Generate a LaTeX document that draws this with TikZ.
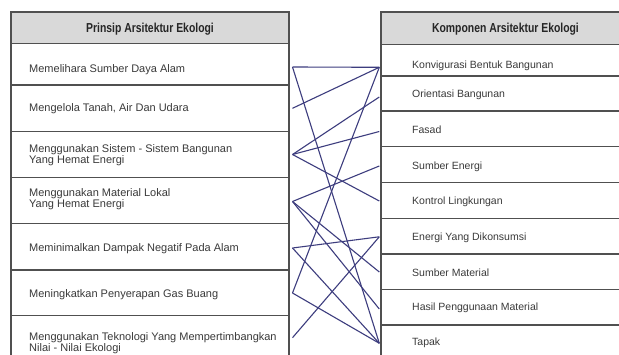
\documentclass[tikz,border=0pt]{standalone}
\usepackage{fontspec}
\setmainfont{Liberation Sans}
\usepackage{graphicx}
\definecolor{bordergray}{HTML}{505050}
\definecolor{hdrgray}{HTML}{D9D9D9}
\definecolor{txtgray}{HTML}{3A3A3A}
\definecolor{linkblue}{HTML}{3D3D7E}
\begin{document}
\begin{tikzpicture}[x=1pt,y=-1pt,
  cell/.style={draw=bordergray, line width=1.2pt, fill=white, anchor=north west, inner sep=0pt, outer sep=0pt},
  hdr/.style={cell, fill=hdrgray},
  txtl/.style={anchor=west, inner sep=0pt, font=\fontsize{11}{9.3}\selectfont, text=txtgray, text height=8pt, text depth=2.3pt},
  txtm/.style={anchor=west, inner sep=0pt, font=\fontsize{11}{9.3}\selectfont, text=txtgray, align=left},
  txt/.style={anchor=west, inner sep=0pt, font=\fontsize{10.5}{9}\selectfont, text=txtgray, text height=7.6pt, text depth=2.2pt},
  htxt/.style={inner sep=0pt, font=\fontsize{13}{14}\selectfont\bfseries, text=black!85},
  link/.style={draw=linkblue, line width=1.1pt}
]
\useasboundingbox (0,0) rectangle (619,355);
\fill[white] (0,0) rectangle (619,355);
\clip (0,0) rectangle (619,355);

% left table
\node[hdr, minimum width=278pt, minimum height=31.3pt] (LH) at (11,12) {};
\node[cell, minimum width=278pt, minimum height=41.7pt] (L1) at (11,43.3) {};
\node[cell, minimum width=278pt, minimum height=46.7pt] (L2) at (11,85) {};
\node[cell, minimum width=278pt, minimum height=46pt] (L3) at (11,131.7) {};
\node[cell, minimum width=278pt, minimum height=45.6pt] (L4) at (11,177.7) {};
\node[cell, minimum width=278pt, minimum height=46.7pt] (L5) at (11,223.3) {};
\node[cell, minimum width=278pt, minimum height=45.7pt] (L6) at (11,270) {};
\node[cell, minimum width=278pt, minimum height=50pt] (L7) at (11,315.7) {};

% right table
\node[hdr, minimum width=249pt, minimum height=32.3pt] (RH) at (381,12) {};
\node[cell, minimum width=249pt, minimum height=31.7pt] (R1) at (381,44.3) {};
\node[cell, minimum width=249pt, minimum height=35pt] (R2) at (381,76) {};
\node[cell, minimum width=249pt, minimum height=35.7pt] (R3) at (381,111) {};
\node[cell, minimum width=249pt, minimum height=35.6pt] (R4) at (381,146.7) {};
\node[cell, minimum width=249pt, minimum height=36pt] (R5) at (381,182.3) {};
\node[cell, minimum width=249pt, minimum height=35.7pt] (R6) at (381,218.3) {};
\node[cell, minimum width=249pt, minimum height=35.3pt] (R7) at (381,254) {};
\node[cell, minimum width=249pt, minimum height=35.7pt] (R8) at (381,289.3) {};
\node[cell, minimum width=249pt, minimum height=40pt] (R9) at (381,325) {};

% headers
\node[htxt] (tLH) at (150,29) {\scalebox{0.8}[1]{Prinsip Arsitektur Ekologi}};
\node[htxt] (tRH) at (505.5,29) {\scalebox{0.8}[1]{Komponen Arsitektur Ekologi}};

% left texts
\node[txtl] (tL1) at (29,70) {Memelihara Sumber Daya Alam};
\node[txtl] (tL2) at (29,109) {Mengelola Tanah, Air Dan Udara};
\node[txtm] (tL3) at (29,154.8) {Menggunakan Sistem - Sistem Bangunan\\Yang Hemat Energi};
\node[txtm] (tL4) at (29,198.8) {Menggunakan Material Lokal\\Yang Hemat Energi};
\node[txtl] (tL5) at (29,248.5) {Meminimalkan Dampak Negatif Pada Alam};
\node[txtl] (tL6) at (29,294.3) {Meningkatkan Penyerapan Gas Buang};
\node[txtm] (tL7) at (29,343.5) {Menggunakan Teknologi Yang Mempertimbangkan\\Nilai - Nilai Ekologi};

% right texts
\node[txt] (tR1) at (412,66) {Konvigurasi Bentuk Bangunan};
\node[txt] (tR2) at (412,95.3) {Orientasi Bangunan};
\node[txt] (tR3) at (412,131) {Fasad};
\node[txt] (tR4) at (412,166.7) {Sumber Energi};
\node[txt] (tR5) at (412,202) {Kontrol Lingkungan};
\node[txt] (tR6) at (412,237.7) {Energi Yang Dikonsumsi};
\node[txt] (tR7) at (412,273.7) {Sumber Material};
\node[txt] (tR8) at (412,308.3) {Hasil Penggunaan Material};
\node[txt] (tR9) at (412,342.7) {Tapak};

% connector end points
\coordinate (l1) at (292.5,67);
\coordinate (l2) at (292.5,108.3);
\coordinate (l3) at (292.5,154.5);
\coordinate (l4) at (292.5,201.5);
\coordinate (l5) at (292.5,248);
\coordinate (l6) at (292.5,293);
\coordinate (l7) at (292.5,337.7);
\coordinate (r1) at (379.3,67.3);
\coordinate (r2) at (379.3,97);
\coordinate (r3) at (379.3,131.5);
\coordinate (r4) at (379.3,166);
\coordinate (r5) at (379.3,201);
\coordinate (r6) at (379.3,236.8);
\coordinate (r7) at (379.3,272);
\coordinate (r8) at (379.3,309);
\coordinate (r9) at (379.3,343.3);

\draw[link] (l1) -- (r1);
\draw[link] (l1) -- (r9);
\draw[link] (l2) -- (r1);
\draw[link] (l3) -- (r2);
\draw[link] (l3) -- (r3);
\draw[link] (l3) -- (r5);
\draw[link] (l4) -- (r4);
\draw[link] (l4) -- (r7);
\draw[link] (l4) -- (r8);
\draw[link] (l5) -- (r6);
\draw[link] (l5) -- (r9);
\draw[link] (l6) -- (r1);
\draw[link] (l6) -- (r9);
\draw[link] (l7) -- (r6);
\end{tikzpicture}
\end{document}
